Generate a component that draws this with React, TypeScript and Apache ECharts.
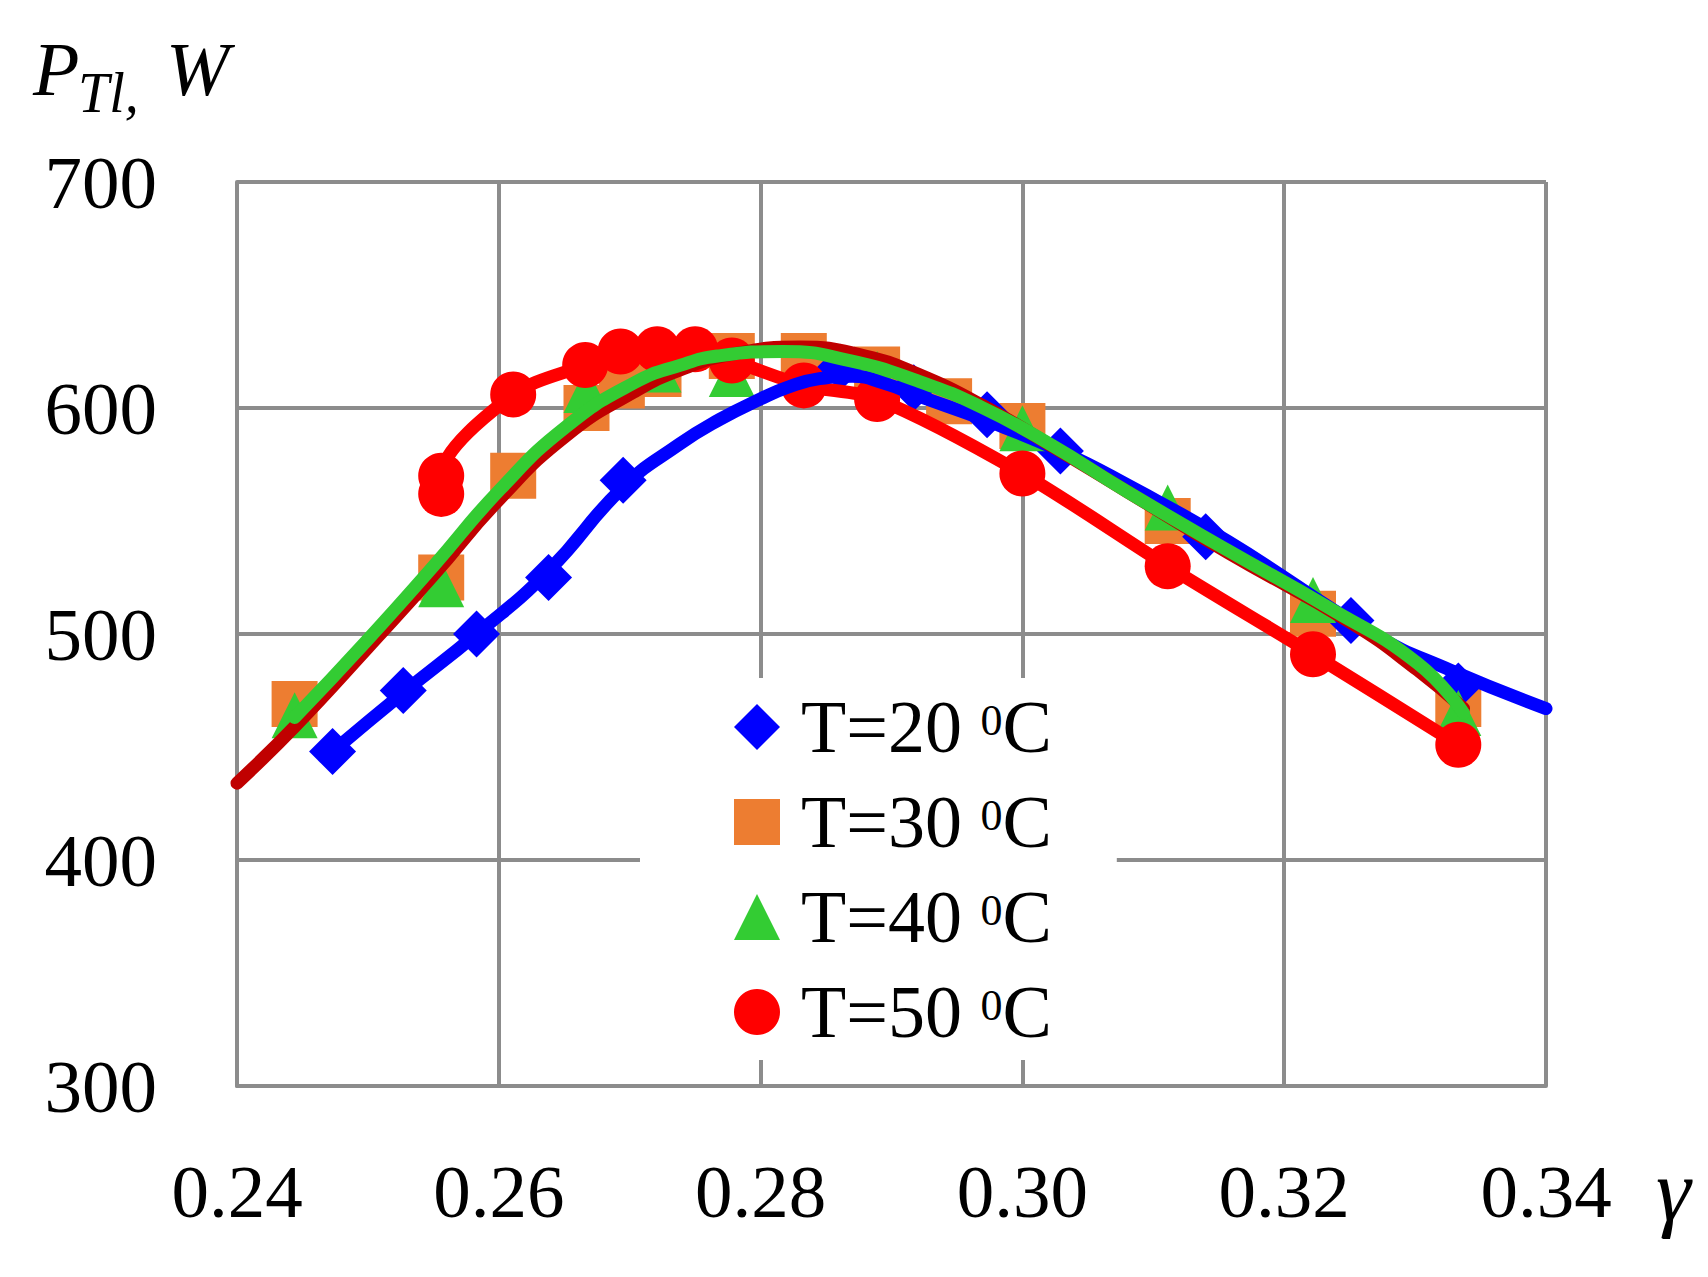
import React, { useEffect, useRef } from "react";
import * as echarts from "echarts";

// ---- data ----
// T=20 °C measured points (blue diamonds)
const T20_X = [0.2473, 0.2527, 0.2583, 0.2638, 0.2695, 0.2861, 0.2917, 0.2973, 0.3029, 0.314, 0.3251, 0.3333];
const T20_Y = [448, 475, 500, 525, 568, 618, 609, 597, 581, 543, 506, 477];
// T=20 °C trend curve (blue line)
const T20_FIT_X = [0.2473, 0.2527, 0.2583, 0.2638, 0.2695, 0.2738, 0.2769, 0.28, 0.282, 0.2845, 0.287, 0.2894, 0.2922, 0.297, 0.3029, 0.308, 0.3157, 0.3268, 0.3327, 0.34];
const T20_FIT_Y = [448, 474, 500, 528, 565, 584, 595, 604, 609, 613, 614, 611, 605, 595, 581, 566, 541, 500, 484, 467];

// T=30 °C measured points (orange squares)
const T30_X = [0.2444, 0.2556, 0.2611, 0.2667, 0.2694, 0.2722, 0.2778, 0.2833, 0.2889, 0.2944, 0.3, 0.3111, 0.3222, 0.3333];
const T30_Y = [469, 525, 570, 600, 610, 615, 623, 623, 617, 603, 592, 550, 509, 469];
// T=30 °C trend curve (dark red line)
const T30_FIT_X = [0.24, 0.2444, 0.25, 0.255, 0.2601, 0.2652, 0.2703, 0.2739, 0.278, 0.283, 0.288, 0.292, 0.297, 0.302, 0.308, 0.3157, 0.3251, 0.3302, 0.3337];
const T30_FIT_Y = [434, 459, 494, 526, 560, 588, 607, 617, 624, 627, 623, 615, 601, 584, 563, 536, 505, 484, 467];

// T=40 °C measured points (green triangles)
const T40_X = [0.2444, 0.2556, 0.2667, 0.2722, 0.2778, 0.2889, 0.3, 0.3111, 0.3222, 0.3333];
const T40_Y = [464, 522, 608, 617, 615, 615, 591, 556, 515, 465];
// T=40 °C trend curve (green line)
const T40_FIT_X = [0.2444, 0.2499, 0.255, 0.2601, 0.2652, 0.2703, 0.2739, 0.2767, 0.2817, 0.2868, 0.292, 0.297, 0.3021, 0.308, 0.3157, 0.3233, 0.3302, 0.3337];
const T40_FIT_Y = [463, 497, 530, 564, 592, 611, 619, 623, 625, 621, 612, 600, 584, 563, 537, 512, 487, 465];

// T=50 °C measured points (red circles, joined by the red line)
const T50_X = [0.2556, 0.2556, 0.2611, 0.2666, 0.2693, 0.2721, 0.275, 0.2778, 0.2833, 0.2889, 0.3, 0.3111, 0.3222, 0.3333];
const T50_Y = [562, 570, 606, 619, 625, 626, 626, 621, 610, 604, 571, 530, 491, 451];

const SERIES_NAMES = ["T=20 0C", "T=30 0C", "T=40 0C", "T=50 0C"];
const X_MIN = 0.24;
const X_MAX = 0.34;
const X_STEP = 0.02;
const Y_MIN = 300;
const Y_MAX = 700;
const Y_STEP = 100;

const zip = (xs: number[], ys: number[]) => xs.map((x, i) => [x, ys[i]]);

const FONT = "'Liberation Serif', 'Times New Roman', serif";
const GRID_COLOR = "#8c8c8c";

export default function App() {
  const ref = useRef<HTMLDivElement | null>(null);

  useEffect(() => {
    if (!ref.current) return;
    const chart = echarts.init(ref.current, null, { renderer: "svg" });

    const lineBase = (name: string, data: number[][], color: string, width: number, smooth = 0.4) => ({
      type: "line" as const,
      name,
      data,
      smooth,
      symbol: "none",
      showSymbol: false,
      lineStyle: { color, width, cap: "round", join: "round" },
      itemStyle: { color },
      silent: true,
      legendHoverLink: false,
    });

    chart.setOption({
      animation: false,
      backgroundColor: "#ffffff",
      grid: { left: 237, top: 182, width: 1309, height: 904, containLabel: false },
      xAxis: {
        type: "value",
        min: X_MIN,
        max: X_MAX,
        interval: X_STEP,
        axisLine: { show: true, lineStyle: { color: GRID_COLOR, width: 4 } },
        axisTick: { show: false },
        splitLine: { show: true, lineStyle: { color: GRID_COLOR, width: 4 } },
        axisLabel: {
          color: "#000",
          fontFamily: FONT,
          fontSize: 75,
          margin: 68,
          formatter: (v: number) => v.toFixed(2),
        },
      },
      yAxis: {
        type: "value",
        min: Y_MIN,
        max: Y_MAX,
        interval: Y_STEP,
        axisLine: { show: true, lineStyle: { color: GRID_COLOR, width: 4 } },
        axisTick: { show: false },
        splitLine: { show: true, lineStyle: { color: GRID_COLOR, width: 4 } },
        axisLabel: {
          color: "#000",
          fontFamily: FONT,
          fontSize: 75,
          margin: 80,
        },
      },
      legend: {
        orient: "vertical",
        left: 640,
        top: 678,
        padding: [12, 65, 11, 94],
        backgroundColor: "#ffffff",
        itemWidth: 46,
        itemHeight: 46,
        itemGap: 21,
        selectedMode: false,
        data: [
          { name: SERIES_NAMES[0], icon: "diamond" },
          { name: SERIES_NAMES[1], icon: "rect" },
          { name: SERIES_NAMES[2], icon: "triangle" },
          { name: SERIES_NAMES[3], icon: "circle" },
        ],
        formatter: (name: string) => {
          const m = name.match(/T=(\d+)/);
          const t = m ? m[1] : "";
          return `{n|T=${t} }{s|0}{n|C}`;
        },
        textStyle: {
          color: "#000",
          fontFamily: FONT,
          fontSize: 74,
          lineHeight: 74,
          padding: [0, 0, 0, 16],
          rich: {
            n: { color: "#000", fontFamily: FONT, fontSize: 74, lineHeight: 74 },
            s: { color: "#000", fontFamily: FONT, fontSize: 44, lineHeight: 44, verticalAlign: "top", padding: [8, 0, 0, 0] },
          },
        },
      },
      graphic: [
        {
          type: "text",
          x: 33,
          y: 69,
          style: { text: "P", font: `italic 76px ${FONT}`, fill: "#000", align: "left", verticalAlign: "middle", textAlign: "left", textVerticalAlign: "middle" },
        },
        {
          type: "text",
          x: 78,
          y: 93,
          style: { text: "Tl,", font: `italic 56px ${FONT}`, fill: "#000", align: "left", verticalAlign: "middle", textAlign: "left", textVerticalAlign: "middle" },
        },
        {
          type: "text",
          x: 166,
          y: 69,
          style: { text: "W", font: `italic 76px ${FONT}`, fill: "#000", align: "left", verticalAlign: "middle", textAlign: "left", textVerticalAlign: "middle" },
        },
        {
          type: "text",
          x: 1656,
          y: 1190,
          style: { text: "γ", font: `italic 88px ${FONT}`, fill: "#000", align: "left", verticalAlign: "middle", textAlign: "left", textVerticalAlign: "middle" },
        },
      ],
      series: [
        {
          type: "scatter",
          name: SERIES_NAMES[1],
          data: zip(T30_X, T30_Y),
          symbol: "rect",
          symbolSize: 46,
          itemStyle: { color: "#ED7D31", opacity: 1 },
        },
        {
          type: "scatter",
          name: SERIES_NAMES[0],
          data: zip(T20_X, T20_Y),
          symbol: "diamond",
          symbolSize: 47,
          itemStyle: { color: "#0000FF", opacity: 1 },
        },
        {
          type: "scatter",
          name: SERIES_NAMES[2],
          data: zip(T40_X, T40_Y),
          symbol: "triangle",
          symbolSize: 46,
          itemStyle: { color: "#33CC33", opacity: 1 },
        },
        lineBase("T50 line", zip(T50_X, T50_Y), "#FF0000", 13, 0.3),
        lineBase("T20 trend", zip(T20_FIT_X, T20_FIT_Y), "#0000FF", 13, 0.5),
        {
          type: "scatter",
          name: SERIES_NAMES[3],
          data: zip(T50_X, T50_Y),
          symbol: "circle",
          symbolSize: 46,
          itemStyle: { color: "#FF0000", opacity: 1 },
        },
        lineBase("T30 trend", zip(T30_FIT_X, T30_FIT_Y), "#C00000", 13, 0.5),
        lineBase("T40 trend", zip(T40_FIT_X, T40_FIT_Y), "#33CC33", 13, 0.5),
      ],
    });

    return () => chart.dispose();
  }, []);

  return (
    <div
      ref={ref}
      style={{ position: "absolute", left: 0, top: 0, width: 1708, height: 1277, background: "#ffffff" }}
    />
  );
}
